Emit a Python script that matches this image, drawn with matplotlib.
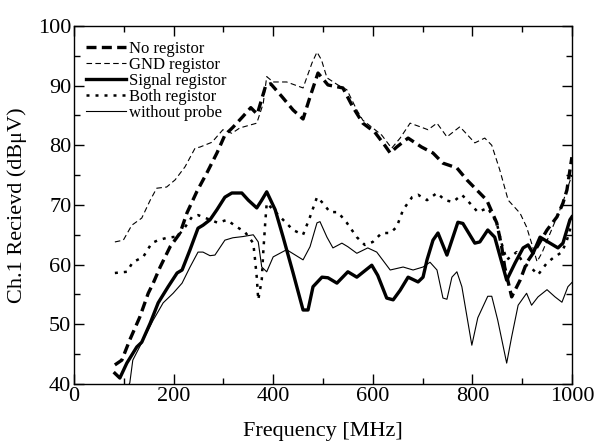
import matplotlib
matplotlib.use("Agg")
import matplotlib.pyplot as plt
from matplotlib.ticker import MultipleLocator

plt.rcParams["font.family"] = ["Liberation Serif", "DejaVu Serif"]
plt.rcParams["mathtext.fontset"] = "stix"

# No registor (thick dashed)
no_f = [82, 96, 112, 132, 149, 159, 173, 193, 213, 227, 247, 267, 287, 303, 319, 339,
        355, 368, 385, 395, 418, 440, 460, 474, 490, 510, 540, 560, 580, 604, 624, 635,
        648, 671, 698, 721, 741, 769, 789, 809, 829, 849, 859, 865, 879, 896, 909, 926,
        950, 970, 982, 990, 1000]
no_v = [43.2, 44.0, 47.4, 51.2, 55.2, 56.9, 59.6, 63.0, 65.3, 68.7, 72.3, 75.4, 78.7, 81.7,
        83.0, 84.8, 86.3, 85.2, 90.0, 90.3, 88.1, 85.9, 84.4, 88.1, 92.1, 90.1, 89.6, 86.4,
        83.7, 82.2, 80.0, 78.7, 79.7, 81.2, 79.7, 78.7, 77.0, 76.2, 74.2, 72.5, 70.8, 67.0,
        63.0, 59.6, 54.6, 57.4, 60.3, 62.4, 65.8, 68.0, 70.3, 72.5, 78.0]

# GND registor (thin dashed)
gnd_f = [82, 99, 116, 136, 153, 166, 186, 203, 223, 243, 253, 277, 299, 317, 333, 367,
         380, 387, 400, 427, 460, 478, 488, 497, 508, 530, 548, 568, 580, 600, 618, 638,
         655, 675, 695, 711, 729, 749, 775, 805, 825, 839, 855, 872, 896, 909, 919, 930,
         940, 960, 980, 1000]
gnd_v = [63.8, 64.1, 66.6, 67.8, 70.8, 72.8, 73.0, 74.2, 76.4, 79.5, 79.7, 80.5, 82.6, 82.0,
         82.9, 83.7, 87.0, 91.5, 90.6, 90.6, 89.6, 93.8, 95.6, 94.3, 91.3, 90.1, 89.3, 85.9,
         84.2, 82.9, 81.7, 79.5, 81.2, 83.7, 83.1, 82.6, 83.7, 81.4, 83.1, 80.4, 81.2, 80.0,
         75.9, 70.8, 68.6, 66.3, 63.6, 60.5, 62.0, 66.0, 70.0, 75.0]

# Signal registor (thick solid)
sig_f = [82, 92, 106, 126, 136, 153, 169, 189, 207, 217, 233, 249, 259, 273, 287, 303,
         317, 337, 350, 367, 377, 387, 404, 420, 440, 460, 470, 480, 498, 510, 528, 550,
         568, 598, 610, 628, 641, 655, 671, 691, 701, 709, 721, 731, 749, 771, 781, 805,
         815, 831, 845, 869, 886, 902, 912, 922, 936, 952, 972, 982, 996, 1000]
sig_v = [41.8, 41.0, 43.5, 46.2, 47.0, 50.2, 53.6, 56.3, 58.6, 59.1, 62.5, 66.1, 66.6, 67.5,
         69.2, 71.3, 72.0, 72.0, 70.8, 69.5, 70.8, 72.2, 69.2, 64.6, 58.6, 52.4, 52.4, 56.3,
         57.9, 57.8, 56.9, 58.8, 57.9, 59.9, 58.2, 54.4, 54.1, 55.7, 57.9, 57.1, 57.9, 60.8,
         64.1, 65.3, 61.6, 67.1, 66.9, 63.6, 63.8, 65.8, 64.6, 57.4, 60.3, 62.8, 63.3, 61.9,
         64.6, 63.8, 62.8, 63.6, 67.5, 68.0]

# Both registor (dotted)
both_f = [82, 106, 118, 139, 156, 169, 187, 207, 219, 237, 249, 289, 307, 327, 343, 360,
          363, 367, 370, 377, 380, 384, 387, 400, 420, 440, 460, 474, 488, 500, 514, 530,
          548, 568, 584, 600, 618, 635, 648, 661, 679, 691, 709, 729, 745, 761, 779, 795,
          811, 831, 849, 859, 869, 889, 902, 919, 932, 950, 962, 980, 990, 1000]
both_v = [58.6, 58.8, 60.4, 61.3, 63.6, 64.1, 64.5, 64.7, 65.8, 68.0, 68.3, 67.0, 67.5, 66.3,
          65.5, 63.6, 61.3, 57.9, 54.1, 57.4, 62.0, 67.0, 70.3, 69.2, 67.5, 65.8, 65.0, 68.0,
          71.3, 70.3, 68.8, 68.8, 67.0, 64.6, 63.3, 63.8, 65.3, 65.3, 66.3, 69.2, 71.3, 71.7,
          70.8, 72.0, 70.8, 70.5, 71.7, 70.3, 68.8, 69.5, 67.0, 63.5, 60.8, 62.1, 60.3, 59.4,
          58.3, 60.3, 61.1, 62.1, 64.1, 67.0]

# without probe (thin solid)
wp_f = [82, 112, 118, 139, 159, 179, 199, 217, 233, 249, 259, 273, 283, 303, 319, 339,
        360, 370, 377, 387, 400, 427, 460, 474, 488, 494, 508, 520, 538, 550, 568, 590,
        608, 635, 661, 681, 701, 715, 729, 741, 749, 759, 769, 779, 799, 811, 831, 839,
        851, 869, 879, 892, 909, 919, 932, 950, 966, 980, 992, 1000]
wp_v = [35.0, 40.2, 44.0, 47.4, 50.7, 53.6, 55.2, 56.9, 59.6, 62.1, 62.1, 61.5, 61.6, 64.1,
        64.5, 64.7, 65.0, 63.8, 59.6, 58.8, 61.3, 62.5, 60.8, 63.0, 67.0, 67.2, 64.6, 62.8,
        63.6, 63.0, 61.9, 62.8, 62.1, 59.1, 59.6, 59.1, 59.6, 60.4, 59.1, 54.4, 54.2, 57.9,
        58.8, 56.3, 46.5, 51.1, 54.7, 54.7, 50.7, 43.5, 47.9, 53.2, 55.2, 53.2, 54.6, 55.8,
        54.6, 53.7, 56.3, 57.0]

fig = plt.figure(figsize=(6.02, 4.46), dpi=100)
ax = fig.add_axes([0.123, 0.139, 0.827, 0.803])

ax.plot(no_f, no_v, color="black", lw=2.4, dashes=(3, 1.6), label="No registor")
ax.plot(gnd_f, gnd_v, color="black", lw=0.8, dashes=(5, 3), label="GND registor")
ax.plot(sig_f, sig_v, color="black", lw=2.4, label="Signal registor")
ax.plot(both_f, both_v, color="black", lw=1.8, dashes=(1.2, 2.4), label="Both registor")
ax.plot(wp_f, wp_v, color="black", lw=0.8, label="without probe")

ax.set_xlim(0, 1000)
ax.set_ylim(40, 100)
ax.xaxis.set_major_locator(MultipleLocator(200))
ax.xaxis.set_minor_locator(MultipleLocator(100))
ax.yaxis.set_major_locator(MultipleLocator(10))
ax.yaxis.set_minor_locator(MultipleLocator(5))
ax.tick_params(which="both", direction="in", top=True, right=True, labelsize=16, pad=2)
ax.tick_params(which="major", length=7, width=1)
ax.tick_params(which="minor", length=4, width=1)
for s in ax.spines.values():
    s.set_linewidth(1)

ax.set_xlabel("Frequency [MHz]", fontsize=16, labelpad=12)
ax.set_ylabel("Ch.1 Recievd (dBμV)", fontsize=16, labelpad=8)

ax.legend(loc="upper left", frameon=False, fontsize=12, handlelength=2.4,
          handletextpad=0.2, labelspacing=0.0, borderaxespad=0.5, borderpad=0.2,
          bbox_to_anchor=(0.0, 0.99))

fig.savefig("out.png", dpi=100)
